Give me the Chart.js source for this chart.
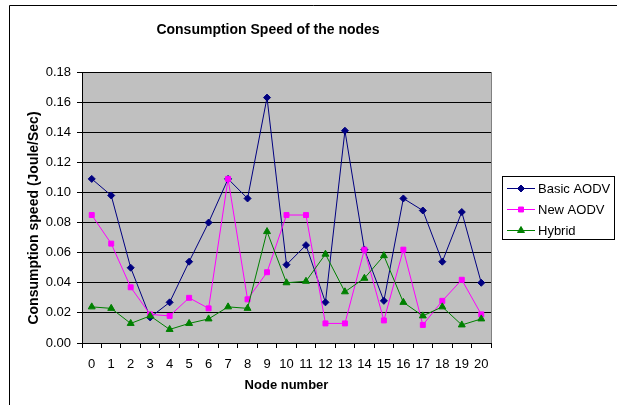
<!DOCTYPE html>
<html>
<head>
<meta charset="utf-8">
<script src="https://cdn.jsdelivr.net/npm/chart.js@4/dist/chart.umd.min.js"></script>
<style>
html,body{margin:0;padding:0;background:#fff;}
#wrap{position:relative;width:617px;height:405px;}
canvas{display:block;}
</style>
</head>
<body>
<div id="wrap"><canvas id="c" width="617" height="405"></canvas></div>
<script>
const chartTitle = "Consumption Speed of the nodes";
const xTitle = "Node number";
const yTitle = "Consumption speed (Joule/Sec)";
const nodes = ["0","1","2","3","4","5","6","7","8","9","10","11","12","13","14","15","16","17","18","19","20"];
const seriesNames = ["Basic AODV", "New AODV", "Hybrid"];
const basicAODV = [0.109,0.098,0.050,0.017,0.027,0.054,0.080,0.109,0.096,0.163,0.052,0.065,0.027,0.141,0.062,0.028,0.096,0.088,0.054,0.087,0.040];
const newAODV   = [0.085,0.066,0.037,0.019,0.018,0.030,0.023,0.109,0.029,0.047,0.085,0.085,0.013,0.013,0.062,0.015,0.062,0.012,0.028,0.042,0.019];
const hybrid    = [0.024,0.023,0.013,0.018,0.009,0.013,0.016,0.024,0.023,0.074,0.040,0.041,0.059,0.034,0.043,0.058,0.027,0.018,0.024,0.012,0.016];
const yTicks = [0,0.02,0.04,0.06,0.08,0.10,0.12,0.14,0.16,0.18];
const colors = ["#000080", "#FF00FF", "#008000"];
const markers = ["rectRot", "rect", "triangle"];

const FONT = "'Liberation Sans', Arial, sans-serif";

const decor = {
  id: 'decor',
  beforeDraw(chart) {
    const {ctx, chartArea: a} = chart;
    ctx.save();
    ctx.fillStyle = '#fff';
    ctx.fillRect(0, 0, chart.width, chart.height);
    ctx.fillStyle = '#C0C0C0';
    ctx.fillRect(a.left, a.top, a.right - a.left, a.bottom - a.top);
    ctx.strokeStyle = '#000';
    ctx.lineWidth = 1;
    ctx.beginPath();
    ctx.moveTo(9.5, 405);
    ctx.lineTo(9.5, 5.5);
    ctx.lineTo(617, 5.5);
    ctx.stroke();
    ctx.restore();
  },
  afterDraw(chart) {
    const {ctx, chartArea: a} = chart;
    ctx.save();
    ctx.strokeStyle = '#808080';
    ctx.lineWidth = 1;
    ctx.beginPath();
    ctx.moveTo(Math.round(a.right) + 0.5, a.top);
    ctx.lineTo(Math.round(a.right) + 0.5, a.bottom);
    ctx.stroke();
    // chart title
    ctx.fillStyle = '#000';
    ctx.font = "bold 14px " + FONT;
    ctx.textAlign = 'center';
    ctx.textBaseline = 'middle';
    ctx.fillText(chartTitle, 268, 30);
    // y title
    ctx.save();
    ctx.translate(34, 218);
    ctx.rotate(-Math.PI / 2);
    ctx.font = "bold 14px " + FONT;
    ctx.fillText(yTitle, 0, 0);
    ctx.restore();
    // legend
    const lx = 502, ly = 176, lw = 112, lh = 63;
    ctx.fillStyle = '#fff';
    ctx.fillRect(lx, ly, lw, lh);
    ctx.strokeStyle = '#000';
    ctx.lineWidth = 1;
    ctx.strokeRect(lx + 0.5, ly + 0.5, lw, lh);
    ctx.font = "13px " + FONT;
    ctx.textAlign = 'left';
    chart.data.datasets.forEach((ds, i) => {
      const y = ly + 12 + i * 21 + 0.5;
      ctx.strokeStyle = ds.borderColor;
      ctx.lineWidth = 1;
      ctx.beginPath();
      ctx.moveTo(507, y);
      ctx.lineTo(535, y);
      ctx.stroke();
      ctx.fillStyle = ds.pointBackgroundColor;
      ctx.strokeStyle = ds.pointBorderColor;
      Chart.helpers.drawPoint(ctx, {pointStyle: ds.pointStyle, radius: ds.pointRadius, borderWidth: 1, rotation: 0}, 521, y);
      ctx.fillStyle = '#000';
      ctx.fillText(ds.label, 538, y + 0.5);
    });
    ctx.restore();
  }
};

const seriesData = [basicAODV, newAODV, hybrid];
const datasets = seriesNames.map((name, i) => ({
  label: name,
  data: seriesData[i],
  borderColor: colors[i],
  backgroundColor: colors[i],
  pointBackgroundColor: colors[i],
  pointBorderColor: colors[i],
  pointStyle: markers[i],
  pointRadius: i === 2 ? 4 : 3.5,
  pointBorderWidth: 1,
  borderWidth: 1,
  tension: 0,
  order: 3 - i
}));

new Chart(document.getElementById('c'), {
  type: 'line',
  data: { labels: nodes, datasets },
  options: {
    responsive: false,
    animation: false,
    devicePixelRatio: 1,
    layout: { padding: { top: 72, right: 126, bottom: 0, left: 0 } },
    plugins: { legend: { display: false }, title: { display: false }, tooltip: { enabled: false } },
    scales: {
      x: {
        type: 'category',
        offset: true,
        afterFit(scale) { scale.height = 62; },
        grid: { offset: true, drawOnChartArea: false, drawTicks: true, tickLength: 5, color: '#000', lineWidth: 1 },
        border: { display: true, color: '#000', width: 1 },
        ticks: { color: '#000', font: { family: FONT, size: 13 }, padding: 9, maxRotation: 0, autoSkip: false },
        title: { display: true, text: xTitle, color: '#000', font: { family: FONT, size: 13, weight: 'bold' }, padding: { top: 0, bottom: 12 } }
      },
      y: {
        min: 0, max: 0.18,
        afterFit(scale) { scale.width = 82; },
        afterBuildTicks(scale) { scale.ticks = yTicks.map(v => ({ value: v })); },
        grid: { color: '#000', lineWidth: 1, drawTicks: true, tickLength: 5 },
        border: { display: true, color: '#000', width: 1 },
        ticks: { color: '#000', font: { family: FONT, size: 13 }, padding: 6, callback: v => Number(v).toFixed(2) },
        title: { display: false }
      }
    }
  },
  plugins: [decor]
});
</script>
</body>
</html>
